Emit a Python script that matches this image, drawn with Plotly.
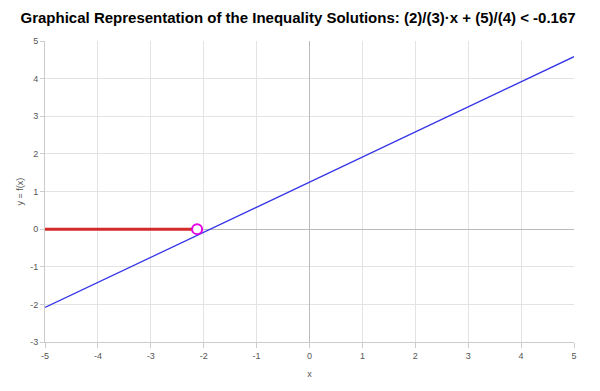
import plotly.graph_objects as go

# Data
line_x = [-5, 5]
line_y = [-2.0833, 4.5833]
sol_x = [-5, -2.125]
sol_y = [0, 0]
bound_x = [-2.125]
bound_y = [0]
x_ticks = [-5, -4, -3, -2, -1, 0, 1, 2, 3, 4, 5]
x_labels = ["-5", "-4", "-3", "-2", "-1", "0", "1", "2", "3", "4", "5"]
y_ticks = [-3, -2, -1, 0, 1, 2, 3, 4, 5]
y_labels = ["-3", "-2", "-1", "0", "1", "2", "3", "4", "5"]

fig = go.Figure()
fig.add_trace(go.Scatter(x=line_x, y=line_y, mode="lines",
                         line=dict(color="#3535e8", width=1.3), showlegend=False))
fig.add_trace(go.Scatter(x=sol_x, y=sol_y, mode="lines",
                         line=dict(color="#d42a2a", width=3), showlegend=False))
fig.add_trace(go.Scatter(x=bound_x, y=bound_y, mode="markers",
                         marker=dict(size=10, color="white",
                                     line=dict(color="#e600e6", width=2)),
                         showlegend=False))

fig.update_layout(
    width=592, height=383,
    margin=dict(l=37, r=26, t=33, b=49),
    paper_bgcolor="white", plot_bgcolor="white",
    font=dict(family="Liberation Sans, Arial, sans-serif", color="#444"),
    title=dict(text="<b>Graphical Representation of the Inequality Solutions: (2)/(3)·x + (5)/(4) < -0.167</b>",
               x=0.49, xanchor="center", y=0.974, yanchor="middle",
               font=dict(size=15, color="black")),
    xaxis=dict(range=[-5, 5], tickvals=x_ticks, ticktext=x_labels, showgrid=True, gridcolor="#e3e3e3",
               zeroline=True, zerolinecolor="#bbbbbb", zerolinewidth=1,
               showline=True, linecolor="#cccccc", ticks="outside", ticklen=5,
               tickcolor="#cccccc", tickfont=dict(size=9, color="#555"),
               title=dict(text="x", font=dict(size=9, color="#555"), standoff=10)),
    yaxis=dict(range=[-3, 5], tickvals=y_ticks, ticktext=y_labels, showgrid=True, gridcolor="#e3e3e3",
               zeroline=True, zerolinecolor="#bbbbbb", zerolinewidth=1,
               showline=True, linecolor="#cccccc", ticks="outside", ticklen=4,
               tickcolor="#cccccc", tickfont=dict(size=9, color="#555"),
               title=dict(text="y = f(x)", font=dict(size=9, color="#555"), standoff=5)),
)

fig.write_html("out.html")
